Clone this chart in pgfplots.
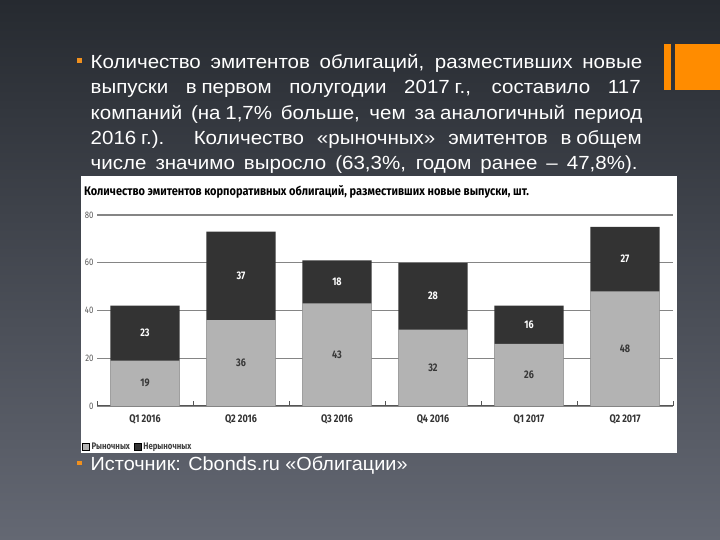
\documentclass[border=0pt]{standalone}
\usepackage{fontspec}
\setmainfont[FakeStretch=1.045]{Liberation Sans}
\newfontfamily\paraf[FakeStretch=1.08]{Liberation Sans}
\newfontfamily\cf[FakeStretch=0.82]{Fira Sans}
\newfontfamily\cft[FakeStretch=0.88]{Fira Sans}
\usepackage{pgfplots}
\pgfplotsset{compat=1.18}
\usepackage{pgfplotstable}

\definecolor{bgtop}{HTML}{262A30}
\definecolor{bgmid}{HTML}{2F343B}
\definecolor{bgbot}{HTML}{646873}
\definecolor{orng}{HTML}{FF8C00}
\definecolor{bullet}{HTML}{F0901E}
\definecolor{barlight}{HTML}{B3B3B3}
\definecolor{bardark}{HTML}{333333}
\definecolor{gridc}{HTML}{858585}
\definecolor{axisc}{HTML}{555555}

\pgfplotstableread{
x m n
0 19 23
1 36 37
2 43 18
3 32 28
4 26 16
5 48 27
}\data

\pgfplotsset{sqlegend/.style={legend image code/.code={\fill[##1] (0pt,-3.5pt) rectangle (7pt,3.5pt);}}}
\newcommand\nb{\hspace{0.25em}}

\begin{document}
\begin{tikzpicture}[x=1pt,y=1pt]
\shade[top color=bgtop, middle color=bgmid, bottom color=bgbot] (0,0) rectangle (720,540);
\fill[orng] (664,450) rectangle (671,496);
\fill[orng] (675,450) rectangle (720,496);
\begin{scope}[every node/.style={anchor=base west, inner sep=0pt, text=white, font=\paraf\fontsize{19}{22}\selectfont}]
\node at (90.5,471.7) {\makebox[551.5pt][s]{Количество эмитентов облигаций, разместивших новые}};
\node at (90.5,446.3) {\makebox[550pt][s]{выпуски в\nb первом полугодии 2017\nb г., составило 117}};
\node at (90.5,420.9) {\makebox[551.5pt][s]{компаний (на\nb 1,7\% больше, чем за\nb аналогичный период}};
\node at (90.5,395.5) {\makebox[551pt][s]{2016\nb г.). Количество «рыночных» эмитентов в\nb общем}};
\node at (90.5,370) {\makebox[547pt][s]{числе значимо выросло (63,3\%, годом ранее – 47,8\%).}};
\end{scope}
\node[anchor=base west, inner sep=0pt, text=white, font=\fontsize{19}{22}\selectfont] at (90.5,69) {Источник: Cbonds.ru «Облигации»};
\fill[bullet] (77,477) rectangle (81.5,481.5);
\fill[bullet] (77,74.5) rectangle (81.5,79);
\fill[white] (80.5,87) rectangle (677,364);
\node[anchor=base west, inner sep=0pt, font=\cft\bfseries\fontsize{12.5}{14}\selectfont] at (84,344.5) {Количество эмитентов корпоративных облигаций, разместивших новые выпуски, шт.};
\begin{axis}[
  at={(97pt,134pt)}, anchor=south west, scale only axis,
  width=576pt, height=191pt,
  xmin=-0.5, xmax=5.5, ymin=0, ymax=80,
  /pgf/number format/assume math mode=true,
  axis x line*=bottom, axis y line*=left,
  x axis line style={-, draw=axisc, line width=1pt},
  y axis line style={draw=none},
  xtick={0,...,5},
  xticklabels={Q1 2016, Q2 2016, Q3 2016, Q4 2016, Q1 2017, Q2 2017},
  minor xtick={-0.5,0.5,...,5.5},
  major tick length=0pt, minor tick length=5pt,
  every minor tick/.append style={axisc, line width=0.8pt},
  xtick align=inside, xtick pos=left, ytick pos=left,
  ytick={0,20,...,80},
  ymajorgrids, grid style={draw=gridc, line width=1.1pt},
  xticklabel style={font=\cf\bfseries\fontsize{11}{12}\selectfont, text=black!80, yshift=-5pt},
  yticklabel style={font=\cf\fontsize{9.5}{10}\selectfont, text=black!65},
  clip=false,
  legend columns=2,
  legend cell align=left,
  legend style={at={(rel axis cs:0,0)}, anchor=west, xshift=-15pt, yshift=-40.5pt,
    draw=none, fill=none, inner sep=0pt,
    font=\cf\bfseries\fontsize{9.5}{10}\selectfont, text=black!75,
    /tikz/every even column/.append style={column sep=2pt}},
]
\addplot[ybar, bar width=0.72, bar shift=0pt, fill=bardark, draw=none, forget plot]
  table[x=x, y expr=\thisrow{m}+\thisrow{n}]{\data};
\addplot[ybar, bar width=0.72, bar shift=0pt, fill=barlight, draw=none, forget plot]
  table[x=x, y=m]{\data};
\addplot[only marks, mark=none, forget plot, point meta=explicit, nodes near coords,
  every node near coord/.append style={anchor=center, font=\cf\bfseries\fontsize{11}{12}\selectfont, text=black!78}]
  table[x=x, y expr=\thisrow{m}/2, meta=m]{\data};
\addplot[only marks, mark=none, forget plot, point meta=explicit, nodes near coords,
  every node near coord/.append style={anchor=center, font=\cf\bfseries\fontsize{11}{12}\selectfont, text=white}]
  table[x=x, y expr=\thisrow{m}+\thisrow{n}/2, meta=n]{\data};
\addlegendimage{sqlegend, fill=barlight}
\addlegendentry{Рыночных}
\addlegendimage{sqlegend, fill=bardark}
\addlegendentry{Нерыночных}
\end{axis}
\pgfresetboundingbox
\path (0,0) rectangle (720,540);
\end{tikzpicture}
\end{document}
